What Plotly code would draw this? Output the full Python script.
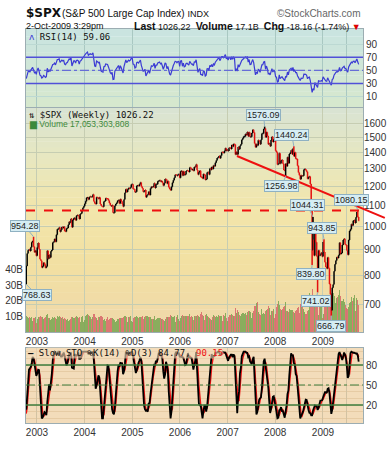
import math
import pandas as pd
import plotly.graph_objects as go

# ---------------- data ----------------
first_week = "2002-10-11"   # weekly bars (Fridays) through 2009-10-02

# warm-up closes (Apr-Oct 2002) used only for the indicators, not drawn
pre_closes = [1111.0, 1125.2, 1076.3, 1073.4, 1055.0, 1106.6, 1083.8, 1067.1, 1027.5, 1007.3,
              989.1, 989.8, 989.0, 921.4, 847.8, 852.8, 864.2, 908.6, 928.8, 940.9,
              916.1, 893.9, 889.8, 845.4, 827.4, 800.6]

closes = [
    # 2002
    835.3, 884.4, 897.7, 901.0, 894.7, 909.8, 930.6, 936.3, 912.2, 889.5, 895.8, 875.4,
    # 2003
    908.6, 927.6, 901.8, 861.4, 855.7, 829.7, 834.9, 848.2, 841.2, 828.9, 833.3, 895.8, 863.5,
    878.9, 868.3, 893.6, 898.8, 930.1, 933.4, 944.3, 933.2, 963.6, 987.8, 988.6, 995.7, 976.2,
    985.7, 998.1, 993.3, 998.7, 980.2, 977.6, 990.7, 993.1, 1008.0, 1021.4, 1018.6, 1036.3, 996.9,
    1029.9, 1038.7, 1039.3, 1028.9, 1050.7, 1053.2, 1050.4, 1035.3, 1058.2, 1061.5, 1074.1, 1088.7, 1095.9,
    # 2004
    1108.5, 1121.9, 1139.8, 1141.6, 1131.1, 1142.8, 1145.8, 1144.1, 1144.9, 1156.9, 1120.6, 1109.8, 1108.1,
    1141.8, 1139.3, 1134.6, 1140.6, 1107.3, 1098.7, 1095.7, 1093.6, 1120.7, 1122.5, 1136.5, 1135.0, 1134.4,
    1125.4, 1112.8, 1101.4, 1096.8, 1101.7, 1064.0, 1064.8, 1098.6, 1107.8, 1113.6, 1123.9, 1128.6, 1110.1,
    1131.5, 1122.1, 1108.2, 1095.7, 1130.2, 1166.2, 1184.2, 1170.3, 1182.7, 1191.2, 1188.0, 1194.2, 1210.1, 1211.9,
    # 2005
    1186.2, 1184.5, 1167.9, 1171.4, 1203.0, 1205.3, 1201.6, 1211.4, 1222.1, 1200.1, 1190.2, 1171.4,
    1172.9, 1181.2, 1142.6, 1152.1, 1156.9, 1171.4, 1154.1, 1189.3, 1198.8, 1196.0, 1200.9, 1217.0, 1191.6,
    1211.9, 1211.9, 1227.9, 1229.4, 1234.2, 1226.4, 1230.4, 1219.7, 1205.1, 1218.0, 1241.5, 1237.9, 1215.3, 1228.8,
    1195.9, 1186.6, 1179.6, 1198.4, 1220.1, 1234.7, 1248.3, 1265.6, 1265.1, 1259.4, 1267.3, 1268.7, 1248.3,
    # 2006
    1285.5, 1287.6, 1261.5, 1283.7, 1264.0, 1267.0, 1287.2, 1289.4, 1287.2, 1281.4, 1307.3, 1303.0, 1294.8,
    1295.5, 1289.1, 1311.3, 1310.6, 1325.8, 1291.2, 1267.0, 1280.2, 1288.2, 1252.3, 1251.5, 1244.5, 1270.2,
    1265.5, 1236.2, 1240.3, 1278.6, 1279.4, 1266.7, 1302.3, 1295.1, 1311.0, 1298.9, 1319.7, 1314.8, 1335.9,
    1349.6, 1365.6, 1368.6, 1377.3, 1364.3, 1380.9, 1401.2, 1401.0, 1396.7, 1409.8, 1427.1, 1410.8, 1418.3,
    # 2007
    1409.7, 1430.7, 1430.5, 1422.2, 1448.4, 1438.1, 1455.5, 1451.2, 1387.2, 1402.8, 1387.0, 1436.1, 1420.9,
    1443.8, 1452.9, 1484.4, 1494.1, 1505.6, 1505.9, 1522.8, 1515.7, 1536.3, 1507.7, 1532.9, 1502.6, 1503.4,
    1530.4, 1552.5, 1534.1, 1459.0, 1433.1, 1453.6, 1445.9, 1479.4, 1474.0, 1453.6, 1484.3, 1525.8, 1526.8,
    1557.6, 1561.8, 1500.6, 1535.3, 1509.7, 1453.7, 1458.7, 1440.7, 1481.1, 1504.7, 1468.0, 1484.5, 1478.5,
    # 2008
    1411.6, 1401.0, 1325.2, 1330.6, 1395.4, 1331.3, 1350.0, 1353.1, 1330.6, 1293.4, 1288.1, 1329.5, 1315.2,
    1370.4, 1332.8, 1390.3, 1397.8, 1413.9, 1388.3, 1425.4, 1375.9, 1400.4, 1360.7, 1360.0, 1317.9, 1278.4,
    1262.9, 1239.5, 1260.7, 1257.8, 1260.3, 1296.3, 1298.2, 1292.2, 1282.8, 1242.3, 1251.7, 1255.1, 1213.3,
    1099.2, 899.2, 940.6, 876.8, 968.8, 931.0, 873.3, 800.0, 896.2, 876.1, 879.7, 887.9, 872.8,
    # 2009
    931.8, 890.4, 850.1, 832.0, 825.9, 868.6, 826.8, 770.1, 735.1, 683.4, 756.6, 768.5, 815.9,
    842.5, 856.6, 869.6, 866.2, 877.5, 929.2, 882.9, 887.0, 919.1, 940.1, 946.2, 921.2, 918.9,
    896.4, 879.1, 940.4, 979.3, 987.5, 1010.5, 1004.1, 1026.1, 1028.9, 1016.4, 1042.7, 1068.3, 1044.4,
    1026.22,
]

volume_b = [  # weekly volume, billions
    # 2002
    10.5, 9.8, 9.2, 9.6, 9.4, 9.0, 9.3, 6.8, 9.1, 9.0, 9.6, 5.9,
    # 2003
    8.2, 9.5, 9.3, 9.8, 10.2, 9.7, 9.4, 8.6, 8.8, 9.5, 10.6, 11.2, 8.9,
    8.7, 8.3, 7.9, 8.6, 9.4, 9.2, 9.6, 8.8, 8.4, 10.1, 9.7, 10.4, 9.6,
    6.9, 8.9, 9.4, 8.6, 9.1, 8.3, 7.4, 8.0, 6.9, 7.6, 8.4, 9.0, 9.6,
    9.3, 8.8, 9.2, 9.5, 9.9, 9.3, 9.1, 9.6, 6.5, 9.4, 9.8, 10.5, 6.2,
    # 2004
    7.4, 10.5, 10.8, 11.2, 11.0, 10.2, 9.6, 8.5, 9.8, 9.8, 11.4, 11.6, 9.6,
    9.2, 7.8, 9.4, 9.5, 9.9, 10.0, 9.4, 8.6, 7.9, 8.4, 7.1, 8.6, 9.7,
    7.6, 8.2, 8.8, 8.9, 8.7, 9.0, 8.1, 7.8, 6.6, 6.8, 8.0, 8.4, 8.9,
    9.1, 8.8, 9.0, 9.5, 9.4, 10.1, 9.9, 9.4, 6.4, 9.6, 9.8, 10.4, 7.3, 6.4,
    # 2005
    9.2, 9.4, 9.7, 9.6, 9.9, 9.6, 9.0, 9.5, 9.8, 9.3, 9.9, 8.6,
    9.4, 8.7, 10.4, 10.5, 10.2, 9.6, 9.8, 9.7, 8.3, 8.4, 8.6, 10.2, 9.8,
    7.9, 8.5, 8.7, 8.9, 9.2, 9.0, 8.6, 8.2, 7.9, 7.1, 8.4, 9.9, 9.7, 9.4,
    9.6, 9.8, 10.6, 10.3, 9.8, 9.5, 10.0, 6.6, 9.8, 9.9, 10.8, 8.1, 6.9,
    # 2006
    8.9, 10.2, 10.8, 10.4, 10.3, 10.5, 10.1, 9.2, 10.0, 10.3, 11.2, 9.8, 10.1,
    9.6, 7.8, 9.9, 10.4, 10.2, 11.1, 12.3, 10.0, 9.6, 11.8, 12.5, 10.9, 10.4,
    7.9, 10.6, 11.3, 10.0, 9.9, 9.3, 9.2, 8.3, 7.5, 9.6, 10.9, 10.1, 9.7,
    10.1, 9.8, 10.6, 10.4, 10.2, 10.0, 10.4, 7.2, 10.6, 10.3, 12.2, 8.9, 6.8,
    # 2007
    9.8, 11.0, 10.6, 10.8, 11.2, 11.1, 10.5, 10.2, 15.6, 12.4, 13.8, 12.6, 11.0,
    9.4, 10.2, 11.8, 12.2, 12.0, 11.8, 12.4, 11.0, 12.5, 13.2, 13.6, 13.4, 12.6,
    8.9, 12.2, 13.1, 16.4, 16.8, 18.2, 19.4, 12.8, 11.6, 10.6, 11.8, 14.5, 11.4,
    12.1, 11.6, 13.4, 13.8, 14.6, 16.9, 15.2, 10.8, 15.4, 13.1, 13.5, 14.9, 8.7,
    # 2008
    11.8, 16.2, 17.6, 20.1, 17.4, 15.0, 14.2, 13.5, 14.6, 16.1, 16.8, 19.2, 13.3,
    13.5, 12.8, 14.6, 13.9, 14.1, 13.4, 14.0, 12.8, 12.4, 13.6, 14.3, 15.4, 15.9,
    12.4, 17.8, 20.2, 17.1, 15.4, 15.0, 12.6, 11.8, 11.2, 13.7, 13.9, 24.6, 17.9,
    21.5, 27.3, 23.8, 20.9, 20.4, 17.5, 19.3, 22.6, 10.8, 19.2, 17.8, 19.4, 9.2,
    # 2009
    11.6, 16.1, 17.9, 18.4, 18.0, 19.2, 17.8, 20.6, 22.4, 25.1, 24.3, 24.8, 23.5,
    22.8, 18.7, 21.4, 22.6, 23.9, 27.1, 22.8, 19.9, 19.6, 21.2, 19.4, 22.6, 17.5,
    15.4, 14.8, 16.1, 18.2, 19.1, 22.6, 20.1, 21.4, 23.8, 13.6, 17.1, 21.9, 20.4,
    17.05,
]

# labelled extremes (week ending, value, is-high)
ext_weeks = ["2002-10-11", "2002-12-06", "2007-10-12", "2008-05-23", "2008-03-21", "2008-10-17",
             "2008-10-10", "2008-11-21", "2009-03-06", "2009-01-09", "2009-09-25"]
ext_values = [768.63, 954.28, 1576.09, 1440.24, 1256.98, 1044.31, 839.80, 741.02, 666.79, 943.85, 1080.15]
ext_is_high = [False, True, True, True, False, True, False, False, False, True, True]

year_ticks = ["2003-01-01", "2004-01-01", "2005-01-01", "2006-01-01", "2007-01-01", "2008-01-01", "2009-01-01"]
year_labels = ["2003", "2004", "2005", "2006", "2007", "2008", "2009"]
extra_grid = ["2009-07-01"]
price_ticks = [700, 800, 900, 1000, 1100, 1200, 1300, 1400, 1500, 1600]
vol_ticks = [10, 20, 30, 40]
vol_labels = ["10B", "20B", "30B", "40B"]
rsi_ticks = [10, 30, 50, 70, 90]
sto_ticks = [20, 50, 80]

resistance_level = 1075.0
trend_dates = ["2007-03-14", "2010-04-20"]
trend_values = [1378.0, 1040.0]

# ---------------- derived series ----------------
weeks = pd.date_range(first_week, periods=len(closes), freq="7D")
opens = [pre_closes[-1]] + closes[:-1]
highs = [max(o, c) for o, c in zip(opens, closes)]
lows = [min(o, c) for o, c in zip(opens, closes)]
wk_index = {d: i for i, d in enumerate(weeks.strftime("%Y-%m-%d"))}
for d, v, hi in zip(ext_weeks, ext_values, ext_is_high):
    i = wk_index[d]
    if hi:
        highs[i] = max(highs[i], v)
    else:
        lows[i] = min(lows[i], v)

all_c = pd.Series(pre_closes + closes)
all_h = pd.Series(pre_closes + highs)
all_l = pd.Series(pre_closes + lows)
n_pre = len(pre_closes)

delta = all_c.diff()
gain = delta.clip(lower=0)
loss = -delta.clip(upper=0)
ag = gain.ewm(alpha=1 / 14, adjust=False).mean()
al = loss.ewm(alpha=1 / 14, adjust=False).mean()
rsi = (100 - 100 / (1 + ag / al)).iloc[n_pre:].tolist()

hh = all_h.rolling(14).max()
ll = all_l.rolling(14).min()
fastk = 100 * (all_c - ll) / (hh - ll)
slowk = fastk.rolling(3).mean()
slowd = slowk.rolling(3).mean()
sto_k = slowk.iloc[n_pre:].tolist()
sto_d = slowd.iloc[n_pre:].tolist()

vol_colors = ["rgba(120,165,80,0.85)" if c >= o else "rgba(214,95,100,0.8)" for o, c in zip(opens, closes)]

# ---------------- layout helpers ----------------
W, H = 389, 453
ML, MR, MT, MB = 26, 26, 29, 30
PW, PH = W - ML - MR, H - MT - MB


def fx(px):
    return (px - ML) / PW


def fy(py):
    return (H - MB - py) / PH


rsi_dom = [fy(107), 1.0]
main_dom = [fy(332), fy(108)]
sto_dom = [0.0, fy(348)]
x_range = ["2002-10-09", "2009-11-04"]

# trend line endpoints mapped through the date axis (so it may run past the plot edge like the original)
r0, r1 = pd.Timestamp(x_range[0]), pd.Timestamp(x_range[1])
trend_xp = [(pd.Timestamp(d) - r0) / (r1 - r0) for d in trend_dates]

tick_font = dict(family="Liberation Sans, Arial, sans-serif", size=10, color="#333333")
grid_vals = year_ticks + extra_grid
grid_text = year_labels + [""]

fig = go.Figure()

# volume (base axis of the price panel)
fig.add_trace(go.Bar(x=weeks, y=volume_b, marker=dict(color=vol_colors, line=dict(width=0)),
                     xaxis="x2", yaxis="y2", showlegend=False, hoverinfo="skip"))
# price bars
fig.add_trace(go.Ohlc(x=weeks, open=opens, high=highs, low=lows, close=closes,
                      xaxis="x2", yaxis="y3", tickwidth=0.5,
                      increasing=dict(line=dict(color="#000000", width=1.5)),
                      decreasing=dict(line=dict(color="#e31010", width=1.5)),
                      showlegend=False, hoverinfo="skip"))
# RSI
fig.add_trace(go.Scatter(x=weeks, y=rsi, mode="lines", line=dict(color="#3b3bd4", width=1.2),
                         xaxis="x", yaxis="y", showlegend=False, hoverinfo="skip"))
# Slow stochastic
fig.add_trace(go.Scatter(x=weeks, y=sto_d, mode="lines", line=dict(color="#ee1111", width=1.4),
                         xaxis="x3", yaxis="y4", showlegend=False, hoverinfo="skip"))
fig.add_trace(go.Scatter(x=weeks, y=sto_k, mode="lines", line=dict(color="#000000", width=1.8),
                         xaxis="x3", yaxis="y4", showlegend=False, hoverinfo="skip"))

shapes = []


def hexrgb(h):
    h = h.lstrip("#")
    return [int(h[i:i + 2], 16) for i in (0, 2, 4)]


def gradient(xref, yref, stops, n):
    out = []
    for k in range(n):
        t = (k + 0.5) / n
        col = stops[-1][1]
        for j in range(len(stops) - 1):
            if stops[j][0] <= t <= stops[j + 1][0]:
                a, b = stops[j], stops[j + 1]
                u = (t - a[0]) / (b[0] - a[0])
                ca, cb = hexrgb(a[1]), hexrgb(b[1])
                col = "rgb(%d,%d,%d)" % tuple(round(ca[m] + (cb[m] - ca[m]) * u) for m in range(3))
                break
        out.append(dict(type="rect", xref=xref, yref=yref, x0=0, x1=1, y0=k / n, y1=min(1, (k + 1) / n + 0.002),
                        fillcolor=col, line=dict(width=0), layer="below"))
    return out


shapes += gradient("x domain", "y domain", [(0, "#d7e8cd"), (1, "#c9e4e1")], 10)
shapes += gradient("x2 domain", "y2 domain",
                   [(0, "#efd8ab"), (0.3, "#f2e0a2"), (0.55, "#f2e6ab"), (0.8, "#e6e7c2"), (1, "#d8e3d3")], 40)
shapes.append(dict(type="rect", xref="x3 domain", yref="y4 domain", x0=0, x1=1, y0=0, y1=1,
                   fillcolor="#f3dcba", line=dict(width=0), layer="below"))

# RSI reference lines
for lv, dash in [(70, "solid"), (30, "solid"), (50, "dashdot")]:
    shapes.append(dict(type="line", xref="x domain", yref="y", x0=0, x1=1, y0=lv, y1=lv,
                       line=dict(color="#5050d8", width=1.5 if dash == "solid" else 1, dash=dash)))
# STO reference lines
for lv, dash in [(80, "solid"), (20, "solid"), (50, "dashdot")]:
    shapes.append(dict(type="line", xref="x3 domain", yref="y4", x0=0, x1=1, y0=lv, y1=lv,
                       line=dict(color="#3d7d3d", width=1.3 if dash == "solid" else 1, dash=dash)))
# resistance and trend line
shapes.append(dict(type="line", xref="x2 domain", yref="y3", x0=0, x1=1,
                   y0=resistance_level, y1=resistance_level,
                   line=dict(color="#ee1010", width=2, dash="dash")))
shapes.append(dict(type="line", xref="paper", yref="y3", x0=trend_xp[0], x1=trend_xp[1],
                   y0=trend_values[0], y1=trend_values[1], line=dict(color="#ee1010", width=2)))

annotations = []
# price labels
label_dx = [11, -9, -1, -2, -4, -6, -1, -2, 0, -2, -6]
label_dy = [11, -11, -11, -11, 10, -12, 9, 9, 10, -11, -10]
for d, v, dx, dy in zip(ext_weeks, ext_values, label_dx, label_dy):
    annotations.append(dict(xref="x2", yref="y3", x=d, y=math.log10(v), text="%.2f" % v,
                            showarrow=True, arrowhead=0, arrowwidth=1, arrowcolor="#8fb1c2",
                            ax=dx, ay=dy, standoff=0,
                            bgcolor="#d6edf3", bordercolor="#8fb1c2", borderwidth=1, borderpad=0,
                            font=dict(family="Liberation Sans, Arial", size=9, color="#222222")))

mono = "DejaVu Sans Mono, monospace"
sans = "Liberation Sans, Arial, sans-serif"
wide = "DejaVu Sans, Verdana, sans-serif"
nb = "\u00a0"
annotations += [
    dict(xref="paper", yref="paper", x=fx(24), y=fy(12.5), xanchor="left", yanchor="middle", showarrow=False,
         text="<b>$SPX</b>", font=dict(family=wide, size=12, color="#111111")),
    dict(xref="paper", yref="paper", x=fx(60), y=fy(13), xanchor="left", yanchor="middle", showarrow=False,
         text="(S&amp;P 500 Large Cap Index) <span style='font-size:9px'>INDX</span>",
         font=dict(family=sans, size=10, color="#111111")),
    dict(xref="paper", yref="paper", x=fx(363), y=fy(13), xanchor="right", yanchor="middle", showarrow=False,
         text="©StockCharts.com", font=dict(family=sans, size=10, color="#666666")),
    dict(xref="paper", yref="paper", x=fx(24), y=fy(25.5), xanchor="left", yanchor="middle", showarrow=False,
         text="2-Oct-2009 3:29pm", font=dict(family=sans, size=9, color="#111111")),
    dict(xref="paper", yref="paper", x=fx(363), y=fy(25.5), xanchor="right", yanchor="middle", showarrow=False,
         text="<b style='font-size:10.5px'>Last</b> 1026.22" + nb * 2 + "<b style='font-size:10.5px'>Volume</b> 17.1B"
              + nb * 2 + "<b style='font-size:10.5px'>Chg</b> -18.16 (-1.74%) <span style='color:#dd0000'>▼</span>",
         font=dict(family=sans, size=9, color="#111111")),
    dict(xref="paper", yref="paper", x=fx(27), y=fy(37), xanchor="left", yanchor="middle", showarrow=False,
         text="<span style='color:#3b3bd4'>ʌ</span> RSI(14) 59.06", font=dict(family=mono, size=9, color="#111111")),
    dict(xref="paper", yref="paper", x=fx(27), y=fy(115), xanchor="left", yanchor="middle", showarrow=False,
         text="⇅ $SPX (Weekly) 1026.22", font=dict(family=mono, size=9, color="#111111")),
    dict(xref="paper", yref="paper", x=fx(27), y=fy(125), xanchor="left", yanchor="middle", showarrow=False,
         text="▆ Volume 17,053,303,808", font=dict(family=sans, size=8.5, color="#3d8a3d")),
    dict(xref="paper", yref="paper", x=fx(27), y=fy(353), xanchor="left", yanchor="middle", showarrow=False,
         text="<b>—</b> Slow STO %K(14) %D(3) 84.77, <span style='color:#ee1111'>90.15</span>",
         bgcolor="rgba(243,220,186,0.6)", borderpad=0,
         font=dict(family=mono, size=9, color="#111111")),
]

axis_line = dict(showline=True, mirror=True, linecolor="#9cadb2", linewidth=1, zeroline=False, ticks="",
                 automargin=False)

fig.update_layout(
    width=W, height=H, margin=dict(l=ML, r=MR, t=MT, b=MB, pad=0, autoexpand=False),
    paper_bgcolor="white", plot_bgcolor="white", bargap=0, showlegend=False,
    xaxis=dict(domain=[0, 1], anchor="y", range=x_range, tickvals=grid_vals, showticklabels=False,
               showgrid=True, gridcolor="#a9c8c2", gridwidth=1, **axis_line),
    yaxis=dict(domain=rsi_dom, anchor="x", side="right", range=[-6, 113], tickvals=rsi_ticks,
               showgrid=True, gridcolor="#bcd9d3", tickfont=tick_font, **axis_line),
    xaxis2=dict(domain=[0, 1], anchor="y2", range=x_range, tickvals=grid_vals, ticktext=grid_text,
                showgrid=True, gridcolor="#c6cdb2", tickfont=tick_font, rangeslider=dict(visible=False),
                **axis_line),
    yaxis2=dict(domain=main_dom, anchor="x2", side="left", range=[0, 143], tickvals=vol_ticks,
                ticktext=vol_labels, showgrid=False, tickfont=tick_font, **axis_line),
    yaxis3=dict(overlaying="y2", anchor="x2", side="right", type="log",
                range=[math.log10(619), math.log10(1714)], tickvals=price_ticks,
                showgrid=True, gridcolor="#c6cdb2", tickfont=tick_font, showline=False, zeroline=False,
                ticks="", automargin=False),
    xaxis3=dict(domain=[0, 1], anchor="y4", range=x_range, tickvals=grid_vals, ticktext=grid_text,
                showgrid=True, gridcolor="#d2c2a2", tickfont=tick_font, rangeslider=dict(visible=False),
                **axis_line),
    yaxis4=dict(domain=sto_dom, anchor="x3", side="right", range=[-7, 105.5], tickvals=sto_ticks,
                showgrid=False, tickfont=tick_font,
                minor=dict(dtick=10, tick0=0, showgrid=True, gridcolor="#e6cba4", ticks=""), **axis_line),
    shapes=shapes, annotations=annotations,
)

fig.write_html("out.html")
